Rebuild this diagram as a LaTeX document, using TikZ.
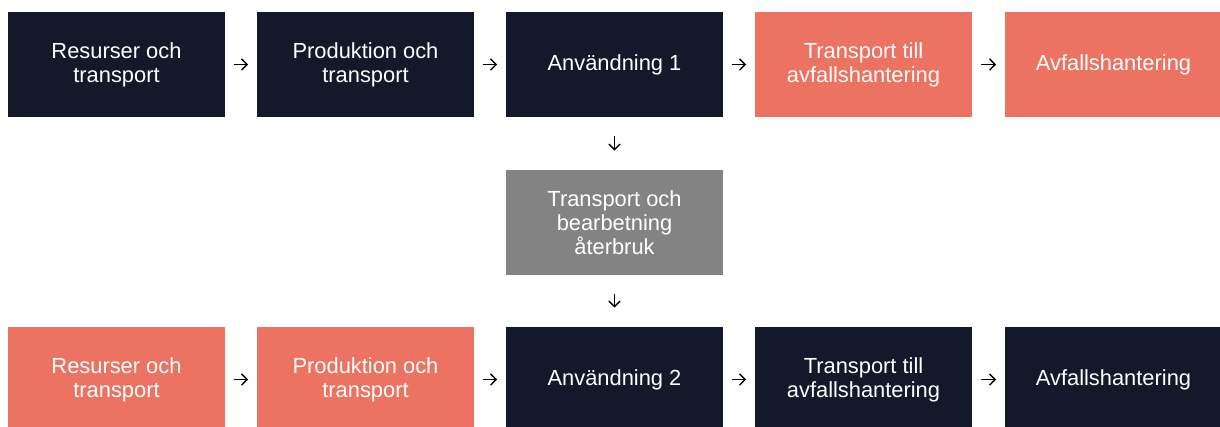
\documentclass[tikz,border=0pt]{standalone}
\usepackage{fontspec}
\setmainfont{Liberation Sans}
\usepackage{tikz}
\usetikzlibrary{positioning}
\usetikzlibrary{arrows.meta}

\definecolor{navy}{HTML}{13192B}
\definecolor{coral}{HTML}{EC7262}
\definecolor{stone}{HTML}{828382}

\begin{document}
\begin{tikzpicture}[x=0.75pt, y=-0.75pt,
	box/.style={rectangle, inner sep=0pt, minimum width=162.75pt, minimum height=78.75pt, text=white, align=center, font=\fontsize{16.4}{18}\selectfont},
	flow/.style={line width=1pt, -{Straight Barb[length=4.2pt, width=8.5pt]}, shorten >=6.5pt, shorten <=6.5pt},
	drop/.style={line width=1pt, -{Straight Barb[length=4.2pt, width=8.5pt]}, shorten >=14.4pt, shorten <=14.4pt}]
				\useasboundingbox (0,0) rectangle (1220,426);
				% first use
				\node[box, fill=navy] (1) at (116.5,64.5) {Resurser och\\transport};
				\node[box, fill=navy] (2) at (365.5,64.5) {Produktion och\\transport};
				\node[box, fill=navy] (3) at (614.5,64.5) {Användning 1};
				\node[box, fill=coral] (4) at (863.5,64.5) {Transport till\\avfallshantering};
				\node[box, fill=coral] (5) at (1113.5,64.5) {Avfallshantering};
				% reuse
				\node[box, fill=stone] (6) at (614.5,222.5) {Transport och\\bearbetning\\återbruk};
				% second use
				\node[box, fill=coral] (7) at (116.5,379.5) {Resurser och\\transport};
				\node[box, fill=coral] (8) at (365.5,379.5) {Produktion och\\transport};
				\node[box, fill=navy] (9) at (614.5,379.5) {Användning 2};
				\node[box, fill=navy] (10) at (863.5,379.5) {Transport till\\avfallshantering};
				\node[box, fill=navy] (11) at (1113.5,379.5) {Avfallshantering};
				
				\draw[flow] (1) -- (2);
				\draw[flow] (2) -- (3);
				\draw[flow] (3) -- (4);
				\draw[flow] (4) -- (5);
				\draw[drop] (3) -- (6);
				\draw[drop] (6) -- (9);
				\draw[flow] (7) -- (8);
				\draw[flow] (8) -- (9);
				\draw[flow] (9) -- (10);
				\draw[flow] (10) -- (11);
			\end{tikzpicture}
\end{document}
